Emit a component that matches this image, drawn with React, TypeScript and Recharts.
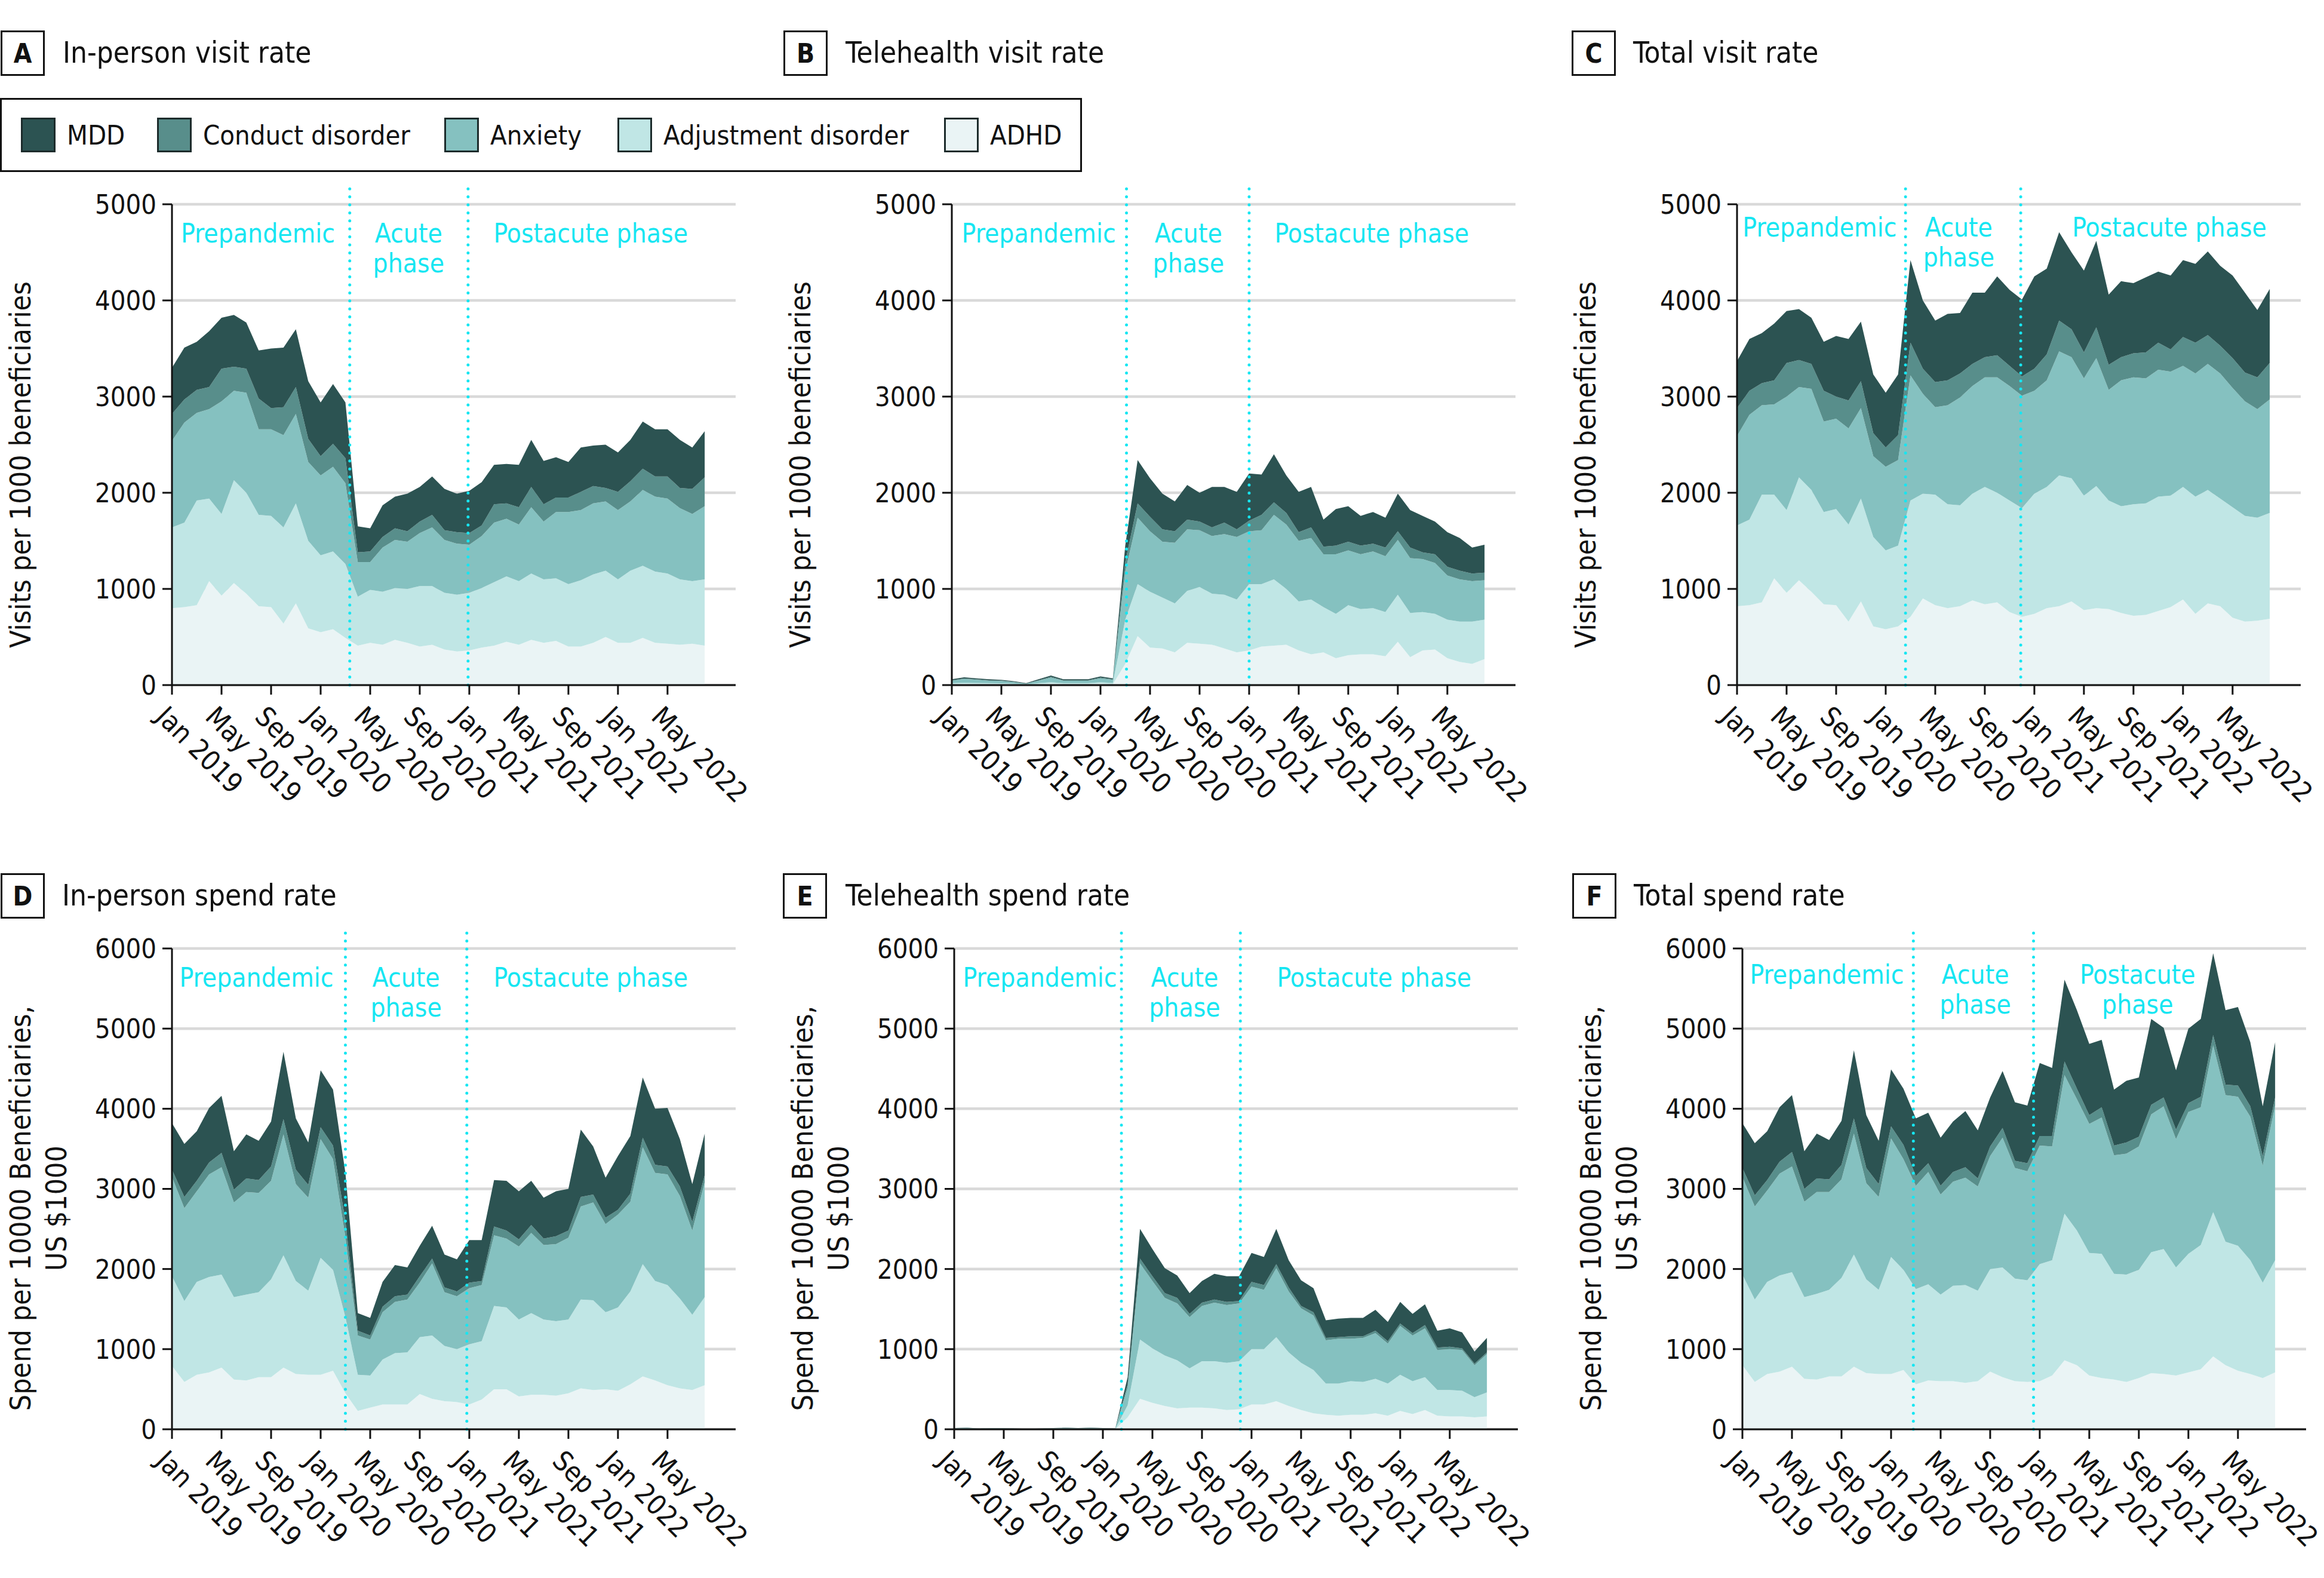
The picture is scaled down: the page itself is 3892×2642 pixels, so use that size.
import { AreaChart, Area, XAxis, YAxis, CartesianGrid, ReferenceLine } from "recharts";

const FONT = "'DejaVu Sans Condensed', 'Liberation Sans Narrow', 'DejaVu Sans', sans-serif";
const CYAN = "#16e6f2";
const INK = "#111";

// Jan 2019 .. Aug 2022, one point per month
const months = [
  "2019-01", "2019-02", "2019-03", "2019-04", "2019-05", "2019-06", "2019-07", "2019-08", "2019-09", "2019-10", "2019-11", "2019-12",
  "2020-01", "2020-02", "2020-03", "2020-04", "2020-05", "2020-06", "2020-07", "2020-08", "2020-09", "2020-10", "2020-11", "2020-12",
  "2021-01", "2021-02", "2021-03", "2021-04", "2021-05", "2021-06", "2021-07", "2021-08", "2021-09", "2021-10", "2021-11", "2021-12",
  "2022-01", "2022-02", "2022-03", "2022-04", "2022-05", "2022-06", "2022-07", "2022-08",
];

const xTicks = [0, 4, 8, 12, 16, 20, 24, 28, 32, 36, 40];
const xTickLabels = [
  "Jan 2019", "May 2019", "Sep 2019", "Jan 2020", "May 2020", "Sep 2020",
  "Jan 2021", "May 2021", "Sep 2021", "Jan 2022", "May 2022",
];

const visitTicks = [0, 1000, 2000, 3000, 4000, 5000];
const spendTicks = [0, 1000, 2000, 3000, 4000, 5000, 6000];

const layers = [
  { key: "adhd", name: "ADHD", color: "#eaf4f5" },
  { key: "adjustment", name: "Adjustment disorder", color: "#c0e6e5" },
  { key: "anxiety", name: "Anxiety", color: "#85c1c0" },
  { key: "conduct", name: "Conduct disorder", color: "#588e8b" },
  { key: "mdd", name: "MDD", color: "#2c5352" },
];

// A. In-person visit rate
const aMdd = [480, 540, 500, 580, 530, 540, 480, 500, 620, 620, 600, 600, 560, 620, 580, 270, 240, 330, 330, 390, 360, 400, 430, 400, 440, 450, 410, 410, 440, 490, 450, 420, 370, 460, 420, 450, 410, 430, 490, 490, 490, 500, 430, 480];
const aConduct = [280, 240, 240, 230, 340, 250, 250, 320, 220, 290, 280, 240, 200, 240, 260, 100, 110, 110, 120, 110, 120, 130, 100, 120, 120, 110, 190, 160, 180, 210, 180, 150, 150, 190, 180, 140, 190, 210, 220, 210, 230, 210, 260, 300];
const aAnxiety = [900, 1040, 910, 930, 1170, 930, 1040, 890, 900, 960, 930, 820, 830, 880, 840, 360, 290, 460, 500, 490, 550, 610, 550, 530, 500, 540, 620, 600, 590, 690, 600, 690, 750, 730, 740, 720, 720, 720, 790, 780, 780, 740, 700, 760];
const aAdjustment = [840, 880, 1090, 860, 850, 1070, 1050, 950, 950, 1000, 1040, 910, 800, 810, 770, 510, 550, 550, 540, 560, 630, 610, 590, 590, 600, 620, 660, 680, 660, 690, 660, 650, 650, 690, 710, 690, 660, 750, 750, 740, 730, 680, 650, 690];
const aAdhd = [800, 810, 830, 1080, 930, 1060, 950, 820, 810, 640, 850, 590, 550, 580, 490, 410, 440, 420, 470, 440, 400, 420, 370, 350, 360, 390, 410, 450, 420, 470, 440, 460, 400, 400, 440, 500, 440, 440, 490, 440, 430, 420, 430, 410];

// B. Telehealth visit rate
const bMdd = [10, 12, 10, 10, 8, 6, 4, 10, 15, 10, 10, 10, 13, 10, 170, 450, 400, 370, 310, 360, 300, 420, 370, 390, 490, 420, 500, 390, 420, 420, 280, 380, 370, 310, 330, 310, 390, 390, 380, 340, 360, 340, 270, 290];
const bConduct = [5, 5, 5, 5, 5, 4, 2, 5, 7, 5, 5, 5, 7, 5, 100, 150, 150, 130, 120, 100, 90, 90, 120, 80, 110, 160, 130, 120, 90, 110, 80, 90, 90, 90, 80, 90, 90, 110, 70, 90, 90, 90, 80, 80];
const bAnxiety = [25, 38, 33, 25, 24, 16, 7, 25, 48, 25, 25, 25, 40, 33, 500, 690, 630, 580, 630, 640, 590, 600, 630, 650, 550, 560, 670, 670, 630, 640, 550, 620, 570, 570, 590, 580, 570, 570, 550, 530, 460, 440, 420, 410];
const bAdjustment = [10, 13, 12, 10, 9, 7, 4, 10, 15, 10, 10, 10, 15, 12, 460, 540, 580, 530, 510, 540, 590, 530, 560, 550, 690, 650, 690, 580, 510, 570, 470, 460, 520, 470, 480, 460, 490, 460, 400, 370, 400, 420, 440, 410];
const bAdhd = [10, 12, 10, 10, 9, 7, 3, 10, 15, 10, 10, 10, 15, 10, 220, 510, 390, 380, 340, 440, 430, 420, 380, 340, 360, 400, 410, 420, 360, 320, 340, 280, 310, 320, 320, 300, 450, 290, 360, 370, 280, 240, 220, 270];

// C. Total visit rate
const cMdd = [490, 540, 520, 590, 540, 530, 480, 510, 630, 640, 620, 610, 570, 630, 860, 710, 640, 690, 630, 740, 670, 820, 790, 800, 960, 890, 920, 800, 850, 900, 730, 790, 730, 780, 740, 770, 800, 820, 870, 830, 860, 830, 700, 770];
const cConduct = [290, 250, 230, 250, 350, 280, 260, 320, 230, 290, 280, 240, 200, 260, 340, 260, 260, 260, 250, 230, 210, 230, 210, 200, 230, 270, 320, 290, 270, 320, 260, 240, 250, 270, 280, 230, 300, 320, 300, 290, 310, 300, 330, 380];
const cAnxiety = [930, 1090, 930, 940, 1180, 940, 1050, 940, 940, 1000, 940, 840, 870, 890, 1300, 1040, 910, 1030, 1120, 1120, 1140, 1200, 1190, 1170, 1070, 1110, 1290, 1260, 1220, 1330, 1150, 1310, 1320, 1300, 1320, 1290, 1260, 1280, 1310, 1300, 1240, 1190, 1130, 1180];
const cAdjustment = [840, 890, 1120, 870, 860, 1070, 1060, 960, 1000, 1010, 1070, 930, 820, 840, 1210, 1090, 1150, 1080, 1050, 1110, 1220, 1140, 1160, 1130, 1250, 1260, 1360, 1280, 1190, 1270, 1130, 1110, 1160, 1160, 1190, 1160, 1170, 1220, 1180, 1120, 1150, 1100, 1070, 1100];
const cAdhd = [820, 830, 860, 1110, 960, 1090, 970, 840, 830, 660, 870, 610, 580, 610, 710, 900, 830, 800, 820, 880, 840, 860, 760, 710, 740, 800, 820, 870, 780, 800, 790, 750, 720, 730, 770, 810, 890, 740, 850, 820, 700, 660, 670, 690];

// D. In-person spend rate
const dMdd = [580, 660, 620, 680, 710, 480, 550, 490, 560, 840, 640, 530, 710, 700, 600, 220, 220, 310, 390, 340, 380, 410, 410, 400, 530, 510, 580, 620, 600, 550, 510, 560, 520, 840, 600, 500, 670, 720, 750, 700, 730, 590, 470, 520];
const dConduct = [90, 140, 130, 150, 180, 160, 170, 160, 180, 190, 180, 160, 150, 170, 200, 60, 50, 70, 70, 60, 80, 60, 60, 60, 70, 50, 110, 100, 90, 100, 80, 100, 90, 120, 100, 80, 60, 100, 120, 100, 100, 120, 110, 90];
const dAnxiety = [1240, 1160, 1130, 1280, 1340, 1180, 1280, 1240, 1230, 1510, 1210, 1160, 1480, 1380, 1000, 490, 450, 590, 640, 660, 680, 900, 670, 660, 700, 700, 880, 860, 910, 1000, 930, 960, 1020, 1160, 1220, 1100, 1160, 1120, 1460, 1350, 1380, 1280, 1050, 1430];
const dAdjustment = [1120, 1010, 1160, 1190, 1160, 1030, 1070, 1060, 1220, 1400, 1160, 1050, 1460, 1260, 950, 450, 400, 560, 640, 650, 710, 790, 690, 660, 750, 730, 1040, 1020, 960, 1020, 940, 930, 920, 1110, 1120, 960, 1040, 1160, 1400, 1240, 1250, 1120, 940, 1100];
const dAdhd = [790, 590, 680, 710, 770, 620, 610, 650, 650, 770, 690, 680, 680, 730, 450, 230, 270, 310, 310, 310, 440, 380, 350, 340, 310, 370, 500, 500, 410, 430, 430, 420, 450, 510, 490, 500, 480, 560, 660, 610, 550, 510, 490, 550];

// E. Telehealth spend rate
const eMdd = [2, 3, 2, 2, 2, 2, 1, 2, 2, 3, 2, 3, 2, 2, 90, 370, 340, 310, 280, 260, 270, 320, 320, 310, 360, 350, 440, 340, 320, 300, 220, 230, 230, 230, 260, 240, 270, 240, 260, 210, 230, 200, 150, 180];
const eConduct = [1, 1, 1, 1, 1, 1, 0, 1, 1, 1, 1, 1, 1, 1, 40, 60, 60, 60, 70, 40, 40, 40, 40, 30, 60, 60, 50, 50, 30, 40, 30, 20, 30, 20, 30, 30, 30, 30, 40, 30, 30, 20, 20, 20];
const eAnxiety = [7, 9, 4, 7, 7, 4, 2, 4, 7, 9, 7, 9, 7, 4, 220, 950, 840, 720, 710, 640, 690, 730, 720, 720, 780, 740, 860, 760, 680, 680, 540, 560, 530, 550, 570, 500, 610, 570, 610, 500, 510, 510, 400, 480];
const eAdjustment = [3, 4, 2, 3, 3, 2, 1, 2, 3, 4, 3, 4, 3, 2, 150, 740, 680, 630, 600, 490, 580, 590, 590, 600, 690, 690, 800, 670, 590, 540, 390, 400, 420, 410, 430, 400, 450, 410, 410, 320, 330, 320, 250, 300];
const eAdhd = [2, 3, 1, 2, 2, 1, 1, 1, 2, 3, 2, 3, 2, 1, 150, 380, 330, 290, 260, 270, 270, 260, 240, 250, 310, 310, 350, 290, 240, 200, 180, 170, 180, 180, 200, 170, 230, 190, 240, 170, 160, 160, 150, 160];

// F. Total spend rate
const fMdd = [560, 650, 610, 680, 710, 470, 560, 490, 550, 850, 660, 540, 710, 700, 720, 630, 600, 630, 700, 600, 610, 710, 730, 720, 910, 850, 1020, 980, 890, 840, 700, 770, 740, 1070, 870, 740, 930, 970, 1020, 930, 980, 800, 620, 690];
const fConduct = [110, 140, 130, 150, 180, 160, 170, 160, 180, 190, 190, 160, 150, 180, 120, 110, 110, 120, 130, 100, 120, 120, 90, 100, 120, 130, 170, 130, 110, 130, 120, 140, 120, 120, 110, 120, 110, 130, 130, 130, 140, 130, 120, 100];
const fAnxiety = [1220, 1160, 1140, 1270, 1320, 1190, 1270, 1220, 1230, 1510, 1200, 1160, 1480, 1380, 1290, 1400, 1250, 1300, 1340, 1300, 1410, 1620, 1380, 1360, 1480, 1420, 1730, 1640, 1610, 1700, 1480, 1510, 1540, 1720, 1780, 1600, 1770, 1720, 2080, 1830, 1860, 1790, 1460, 1930];
const fAdjustment = [1130, 1030, 1150, 1200, 1180, 1020, 1070, 1080, 1230, 1400, 1170, 1050, 1460, 1250, 1190, 1200, 1080, 1190, 1220, 1130, 1280, 1370, 1280, 1270, 1460, 1440, 1830, 1680, 1530, 1550, 1320, 1340, 1350, 1510, 1560, 1350, 1480, 1550, 1800, 1540, 1560, 1420, 1190, 1400];
const fAdhd = [800, 590, 690, 720, 780, 630, 620, 660, 660, 780, 700, 690, 690, 740, 560, 610, 600, 600, 580, 600, 720, 650, 600, 590, 600, 670, 860, 800, 670, 640, 620, 590, 640, 700, 690, 670, 710, 750, 910, 800, 730, 690, 640, 710];

type Series = { mdd: number[]; conduct: number[]; anxiety: number[]; adjustment: number[]; adhd: number[] };

type PanelCfg = {
  letter: string;
  title: string;
  yLabel: string[];
  yMax: number;
  yTicks: number[];
  series: Series;
  splits: number[];
  prepAt: number;
  acuteAt: number;
  postAt: number;
  postLines: string[];
  labelShift: number;
  axisX: number;
  row: 0 | 1;
  titleBoxX: number;
  titleTextX: number;
};

const visitLabel = ["Visits per 1000 beneficiaries"];
const spendLabel = ["Spend per 10000 Beneficiaries,", "US $1000"];

const panels: PanelCfg[] = [
  {
    letter: "A", title: "In-person visit rate", yLabel: visitLabel, yMax: 5000, yTicks: visitTicks,
    series: { mdd: aMdd, conduct: aConduct, anxiety: aAnxiety, adjustment: aAdjustment, adhd: aAdhd },
    splits: [14.35, 23.9], prepAt: 0.72, acuteAt: 19.1, postAt: 33.8, postLines: ["Postacute phase"], labelShift: 64,
    axisX: 288, row: 0, titleBoxX: 1, titleTextX: 105,
  },
  {
    letter: "B", title: "Telehealth visit rate", yLabel: visitLabel, yMax: 5000, yTicks: visitTicks,
    series: { mdd: bMdd, conduct: bConduct, anxiety: bAnxiety, adjustment: bAdjustment, adhd: bAdhd },
    splits: [14.1, 24.0], prepAt: 0.8, acuteAt: 19.1, postAt: 33.9, postLines: ["Postacute phase"], labelShift: 64,
    axisX: 1594, row: 0, titleBoxX: 1312, titleTextX: 1416,
  },
  {
    letter: "C", title: "Total visit rate", yLabel: visitLabel, yMax: 5000, yTicks: visitTicks,
    series: { mdd: cMdd, conduct: cConduct, anxiety: cAnxiety, adjustment: cAdjustment, adhd: cAdhd },
    splits: [13.6, 22.9], prepAt: 0.45, acuteAt: 17.9, postAt: 34.9, postLines: ["Postacute phase"], labelShift: 54,
    axisX: 2909, row: 0, titleBoxX: 2632, titleTextX: 2735,
  },
  {
    letter: "D", title: "In-person spend rate", yLabel: spendLabel, yMax: 6000, yTicks: spendTicks,
    series: { mdd: dMdd, conduct: dConduct, anxiety: dAnxiety, adjustment: dAdjustment, adhd: dAdhd },
    splits: [14.0, 23.8], prepAt: 0.6, acuteAt: 18.9, postAt: 33.8, postLines: ["Postacute phase"], labelShift: 64,
    axisX: 288, row: 1, titleBoxX: 1, titleTextX: 104,
  },
  {
    letter: "E", title: "Telehealth spend rate", yLabel: spendLabel, yMax: 6000, yTicks: spendTicks,
    series: { mdd: eMdd, conduct: eConduct, anxiety: eAnxiety, adjustment: eAdjustment, adhd: eAdhd },
    splits: [13.5, 23.1], prepAt: 0.7, acuteAt: 18.6, postAt: 33.9, postLines: ["Postacute phase"], labelShift: 64,
    axisX: 1598, row: 1, titleBoxX: 1311, titleTextX: 1416,
  },
  {
    letter: "F", title: "Total spend rate", yLabel: spendLabel, yMax: 6000, yTicks: spendTicks,
    series: { mdd: fMdd, conduct: fConduct, anxiety: fAnxiety, adjustment: fAdjustment, adhd: fAdhd },
    splits: [13.8, 23.5], prepAt: 0.6, acuteAt: 18.8, postAt: 31.9, postLines: ["Postacute", "phase"], labelShift: 59,
    axisX: 2918, row: 1, titleBoxX: 2633, titleTextX: 2736,
  },
];

const CHART_W = 1300;
const CHART_H = 1094;
const PLOT_LEFT = 288; // margin.left + y axis width
const rowTop = [300, 1546];
const titleMid = [89, 1500];
const yLabelMid = [778, 2023];

function MonthTick(props: any) {
  const { x, y, payload } = props;
  const label = xTickLabels[xTicks.indexOf(payload.value)];
  return (
    <g transform={`translate(${x - 6},${y + 16}) rotate(45)`}>
      <text x={0} y={0} dy="0.72em" fill={INK} fontSize={46} textAnchor="start">
        {label}
      </text>
    </g>
  );
}

function PhaseLabel(props: any) {
  const { viewBox, lines, align, shift } = props;
  if (!viewBox) return null;
  return (
    <text x={viewBox.x} y={viewBox.y + shift} fill={CYAN} fontSize={44} textAnchor={align}>
      {lines.map((l: string, i: number) => (
        <tspan key={i} x={viewBox.x} dy={i === 0 ? 0 : 50}>
          {l}
        </tspan>
      ))}
    </text>
  );
}

function Panel({ cfg }: { cfg: PanelCfg }) {
  const rows = months.map((m, i) => ({
    t: i,
    month: m,
    mdd: cfg.series.mdd[i],
    conduct: cfg.series.conduct[i],
    anxiety: cfg.series.anxiety[i],
    adjustment: cfg.series.adjustment[i],
    adhd: cfg.series.adhd[i],
  }));
  const lineTop = cfg.yMax * 1.046;
  const axisStyle = { stroke: INK, strokeWidth: 3 };
  return (
    <div style={{ position: "absolute", left: cfg.axisX - PLOT_LEFT, top: rowTop[cfg.row], width: CHART_W, height: CHART_H }}>
      <AreaChart width={CHART_W} height={CHART_H} data={rows} margin={{ top: 42, right: 68, left: 108, bottom: 47 }}>
        <CartesianGrid vertical={false} stroke="#d9d9d9" strokeWidth={4.5} />
        <XAxis
          type="number"
          dataKey="t"
          domain={[0, 45.5]}
          ticks={xTicks}
          interval={0}
          height={200}
          tick={<MonthTick />}
          tickSize={16}
          tickMargin={0}
          axisLine={axisStyle}
          tickLine={axisStyle}
        />
        <YAxis
          type="number"
          domain={[0, cfg.yMax]}
          ticks={cfg.yTicks}
          interval={0}
          width={180}
          tickSize={16}
          tickMargin={10}
          tick={{ fill: INK, fontSize: 45 }}
          axisLine={axisStyle}
          tickLine={axisStyle}
        />
        {layers.map((l) => (
          <Area
            key={l.key}
            type="linear"
            dataKey={l.key}
            name={l.name}
            stackId="s"
            stroke="none"
            fill={l.color}
            fillOpacity={1}
            isAnimationActive={false}
          />
        ))}
        {cfg.splits.map((s) => (
          <ReferenceLine
            key={s}
            segment={[{ x: s, y: 0 }, { x: s, y: lineTop }]}
            ifOverflow="visible"
            stroke={CYAN}
            strokeWidth={5}
            strokeDasharray="0 13.4"
            strokeLinecap="round"
          />
        ))}
        <ReferenceLine x={cfg.prepAt} stroke="none" label={<PhaseLabel lines={["Prepandemic"]} align="start" shift={cfg.labelShift} />} />
        <ReferenceLine x={cfg.acuteAt} stroke="none" label={<PhaseLabel lines={["Acute", "phase"]} align="middle" shift={cfg.labelShift} />} />
        <ReferenceLine x={cfg.postAt} stroke="none" label={<PhaseLabel lines={cfg.postLines} align="middle" shift={cfg.labelShift} />} />
      </AreaChart>
    </div>
  );
}

function PanelTitle({ cfg }: { cfg: PanelCfg }) {
  const mid = titleMid[cfg.row];
  return (
    <>
      <div
        style={{
          position: "absolute", left: cfg.titleBoxX, top: mid - 38, width: 74, height: 76,
          boxSizing: "border-box", border: `3px solid ${INK}`, display: "flex",
          alignItems: "center", justifyContent: "center", fontWeight: "bold", fontSize: 44,
        }}
      >
        {cfg.letter}
      </div>
      <div style={{ position: "absolute", left: cfg.titleTextX, top: mid - 30, height: 60, lineHeight: "60px", fontSize: 49, whiteSpace: "nowrap" }}>
        {cfg.title}
      </div>
    </>
  );
}

function YTitle({ cfg }: { cfg: PanelCfg }) {
  const cx = cfg.axisX - (cfg.yLabel.length > 1 ? 224 : 254);
  return (
    <div
      style={{
        position: "absolute", left: cx, top: yLabelMid[cfg.row], transform: "translate(-50%, -50%) rotate(-90deg)",
        fontSize: 48, lineHeight: "60px", whiteSpace: "nowrap", textAlign: "center",
      }}
    >
      {cfg.yLabel.map((l) => (
        <div key={l}>{l}</div>
      ))}
    </div>
  );
}

function Legend() {
  const swatchX = [35, 263, 744, 1034, 1581];
  const order = [...layers].reverse();
  return (
    <div style={{ position: "absolute", left: 0, top: 164, width: 1812, height: 124, boxSizing: "border-box", border: `3px solid ${INK}` }}>
      {order.map((l, i) => (
        <div key={l.key} style={{ position: "absolute", left: swatchX[i] - 3, top: 30, height: 58, display: "flex", alignItems: "center" }}>
          <div style={{ width: 58, height: 58, boxSizing: "border-box", border: "3px solid #1c2b2b", background: l.color }} />
          <div style={{ marginLeft: 19, fontSize: 45, whiteSpace: "nowrap" }}>{l.name}</div>
        </div>
      ))}
    </div>
  );
}

export default function App() {
  return (
    <div
      style={{
        position: "absolute", left: 0, top: 0, width: 3892, height: 2642, overflow: "hidden",
        background: "#fff", fontFamily: FONT, color: INK,
      }}
    >
      {panels.map((p) => (
        <Panel key={p.letter} cfg={p} />
      ))}
      {panels.map((p) => (
        <PanelTitle key={p.letter} cfg={p} />
      ))}
      {panels.map((p) => (
        <YTitle key={p.letter} cfg={p} />
      ))}
      <Legend />
    </div>
  );
}
